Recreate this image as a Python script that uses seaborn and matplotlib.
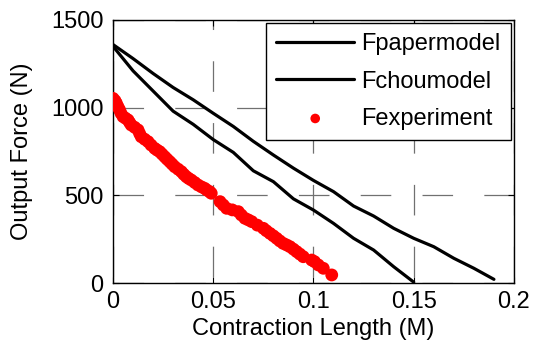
import numpy as np
import pandas as pd
import matplotlib
matplotlib.use("Agg")
import matplotlib.pyplot as plt
import seaborn as sns

# Model curves (contraction length in M, force in N)
paper_x = [0.00, 0.01, 0.02, 0.03, 0.04, 0.05, 0.06, 0.07, 0.08, 0.09,
           0.10, 0.11, 0.12, 0.13, 0.14, 0.15, 0.16, 0.17, 0.18, 0.19]
paper_f = [1360, 1280, 1195, 1115, 1045, 968, 893, 808, 730, 655,
           585, 521, 439, 382, 312, 255, 207, 141, 84, 21]

chou_x = [0.00, 0.01, 0.02, 0.03, 0.04, 0.05, 0.06, 0.07, 0.08, 0.09,
          0.10, 0.11, 0.12, 0.13, 0.14, 0.15]
chou_f = [1350, 1210, 1095, 980, 905, 818, 745, 640, 578, 480,
          416, 340, 255, 188, 93, 5]

# Measured points
exp_x = [0.000, 0.001, 0.0017, 0.0025, 0.0033, 0.004, 0.005, 0.0062, 0.0075, 0.0083,
         0.0091, 0.0108, 0.0125, 0.0133, 0.0141, 0.0158, 0.0175, 0.019, 0.0208, 0.022,
         0.0233, 0.0245, 0.0258, 0.027, 0.0283, 0.0295, 0.0308, 0.0325, 0.0341, 0.0353,
         0.0366, 0.0378, 0.0391, 0.0408, 0.0424, 0.0442, 0.0457, 0.0468, 0.0482, 0.049,
         0.0534, 0.055, 0.0567, 0.0595, 0.0625, 0.064, 0.0658, 0.0675, 0.0692, 0.072,
         0.075, 0.0765, 0.0783, 0.080, 0.0816, 0.0832, 0.0849, 0.0866, 0.0883, 0.090,
         0.0916, 0.0932, 0.0949, 0.0991, 0.1005, 0.1024, 0.1049, 0.1091]
exp_f = [1053, 1040, 1025, 1005, 987, 968, 949, 940, 930, 915,
         901, 888, 873, 852, 834, 820, 806, 787, 768, 758,
         749, 735, 720, 706, 692, 678, 663, 649, 635, 620,
         606, 596, 587, 573, 559, 548, 540, 530, 521, 512,
         464, 445, 426, 417, 407, 388, 369, 360, 350, 330,
         312, 298, 283, 269, 255, 240, 226, 217, 207, 193,
         179, 165, 150, 131, 122, 103, 84, 46]

x_ticks = [0, 0.05, 0.1, 0.15, 0.2]
x_labels = ["0", "0.05", "0.1", "0.15", "0.2"]
y_ticks = [0, 500, 1000, 1500]

sns.set_style("white")
plt.rcParams["font.family"] = ["Liberation Sans", "DejaVu Sans"]
plt.rcParams["lines.scale_dashes"] = False
for key in ["text.color", "axes.labelcolor", "xtick.color", "ytick.color"]:
    plt.rcParams[key] = "black"

fs = 17

fig = plt.figure(figsize=(5.35, 3.47), dpi=100)
ax = fig.add_axes([0.2112, 0.1844, 0.7495, 0.758])

paper_df = pd.DataFrame({"x": paper_x, "f": paper_f})
chou_df = pd.DataFrame({"x": chou_x, "f": chou_f})
exp_df = pd.DataFrame({"x": exp_x, "f": exp_f})

sns.lineplot(data=paper_df, x="x", y="f", ax=ax, color="black", lw=2.3,
             label="Fpapermodel", sort=False)
sns.lineplot(data=chou_df, x="x", y="f", ax=ax, color="black", lw=2.3,
             label="Fchoumodel", sort=False)
sns.scatterplot(data=exp_df, x="x", y="f", ax=ax, color="red", s=85,
                edgecolor="none", label="Fexperiment", zorder=3)

ax.set_xlim(0, 0.2)
ax.set_ylim(0, 1500)
ax.set_xticks(x_ticks)
ax.set_xticklabels(x_labels)
ax.set_yticks(y_ticks)

# dashed grid, MATLAB style
ax.grid(True, color="#707070", lw=0.9, linestyle=(0, (22, 22.5)))
ax.xaxis.grid(True, linestyle=(40, (22, 22.5)))
ax.set_axisbelow(True)

ax.tick_params(direction="in", length=4, width=0.8, color="black",
               labelsize=fs, labelcolor="black",
               top=True, right=True, bottom=True, left=True)
ax.tick_params(axis="x", pad=6)
ax.tick_params(axis="y", pad=7)
for sp in ax.spines.values():
    sp.set_color("black")
    sp.set_linewidth(1.0)

ax.set_xlabel("Contraction Length (M)", fontsize=fs, labelpad=3, color="black")
ax.set_ylabel("Output Force (N)", fontsize=fs, labelpad=13, color="black")

leg = ax.legend(loc="upper right", fontsize=fs, frameon=True, fancybox=False,
                edgecolor="black", framealpha=1, borderaxespad=0.12,
                handlelength=3.3, handletextpad=0.3, labelspacing=0.64,
                borderpad=0.45, markerscale=0.75)
leg.get_frame().set_linewidth(1.0)
for t in leg.get_texts():
    t.set_color("black")

fig.savefig("out.png", dpi=100)
